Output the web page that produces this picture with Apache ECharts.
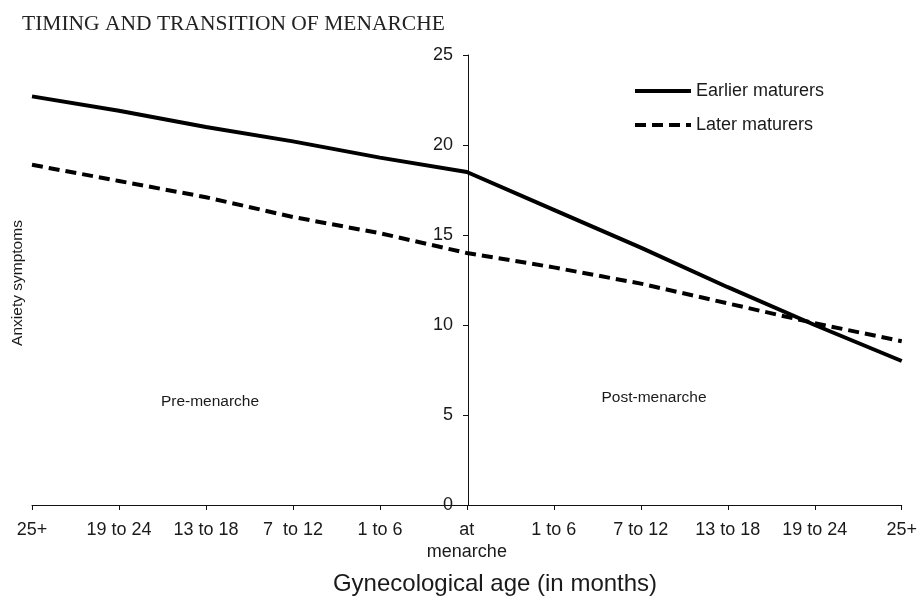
<!DOCTYPE html>
<html>
<head>
<meta charset="utf-8">
<title>Timing and transition of menarche</title>
<script src="https://cdn.jsdelivr.net/npm/echarts@6/dist/echarts.min.js"></script>
<style>
  html, body { margin: 0; padding: 0; background: #fff; }
  #chart { width: 920px; height: 598px; }
</style>
</head>
<body>
<div id="chart"></div>
<script>
// gynecological age, from 25+ months before menarche to 25+ months after
var categories = ['25+', '19 to 24', '13 to 18', '7  to 12', '1 to 6', 'at\nmenarche',
  '1 to 6', '7 to 12', '13 to 18', '19 to 24', '25+'];
var earlierMaturers = [22.7, 21.9, 21.0, 20.2, 19.3, 18.5, 16.4, 14.3, 12.1, 10.0, 8.0];
var laterMaturers = [18.9, 18.0, 17.1, 16.0, 15.1, 14.0, 13.2, 12.3, 11.2, 10.1, 9.1];
var yMin = 0, yMax = 25, yStep = 5;

var sans = 'Liberation Sans, Arial, sans-serif';
var ink = '#1a1a1a';

var myChart = echarts.init(document.getElementById('chart'));
myChart.setOption({
  animation: false,
  title: {
    text: 'TIMING AND TRANSITION OF MENARCHE',
    left: 17,
    top: 8,
    textStyle: {
      fontFamily: 'Liberation Serif, Times New Roman, serif',
      fontWeight: 'normal',
      fontSize: 21.5,
      color: '#222'
    }
  },
  legend: {
    orient: 'vertical',
    left: 628,
    top: 77,
    itemWidth: 56,
    itemHeight: 14,
    itemGap: 16,
    data: ['Earlier maturers', 'Later maturers'],
    itemStyle: { opacity: 0 },
    lineStyle: { width: 4 },
    textStyle: { fontFamily: sans, fontSize: 18, color: ink }
  },
  grid: { left: 32, right: 16, top: 55, bottom: 93 },
  xAxis: {
    type: 'category',
    boundaryGap: false,
    data: categories,
    axisLine: { lineStyle: { color: '#111', width: 1 } },
    axisTick: { length: 5, lineStyle: { color: '#111' } },
    axisLabel: {
      fontFamily: sans,
      fontSize: 18,
      lineHeight: 22,
      color: ink,
      margin: 14,
      interval: 0
    },
    splitLine: { show: false }
  },
  yAxis: {
    type: 'value',
    min: yMin,
    max: yMax,
    interval: yStep,
    position: 'left',
    offset: -436,
    axisLine: { show: true, lineStyle: { color: '#111', width: 1 } },
    axisTick: { show: true, length: 5, lineStyle: { color: '#111' } },
    axisLabel: { fontFamily: sans, fontSize: 18, color: ink, margin: 15 },
    splitLine: { show: false }
  },
  graphic: [
    {
      type: 'text',
      x: 18, y: 283,
      rotation: Math.PI / 2,
      style: { text: 'Anxiety symptoms', font: '15.5px ' + sans, fill: ink, align: 'center', verticalAlign: 'middle' }
    },
    {
      type: 'text',
      x: 210, y: 402,
      style: { text: 'Pre-menarche', font: '15.5px ' + sans, fill: ink, align: 'center', verticalAlign: 'middle' }
    },
    {
      type: 'text',
      x: 654, y: 398,
      style: { text: 'Post-menarche', font: '15.5px ' + sans, fill: ink, align: 'center', verticalAlign: 'middle' }
    },
    {
      type: 'text',
      x: 495, y: 584,
      style: { text: 'Gynecological age (in months)', font: '24px ' + sans, fill: ink, align: 'center', verticalAlign: 'middle' }
    }
  ],
  series: [
    {
      name: 'Earlier maturers',
      type: 'line',
      data: earlierMaturers,
      symbol: 'none',
      itemStyle: { color: '#000' },
      lineStyle: { color: '#000', width: 4 }
    },
    {
      name: 'Later maturers',
      type: 'line',
      data: laterMaturers,
      symbol: 'none',
      itemStyle: { color: '#000' },
      lineStyle: { color: '#000', width: 4, type: [11, 6] }
    }
  ]
});
</script>
</body>
</html>
